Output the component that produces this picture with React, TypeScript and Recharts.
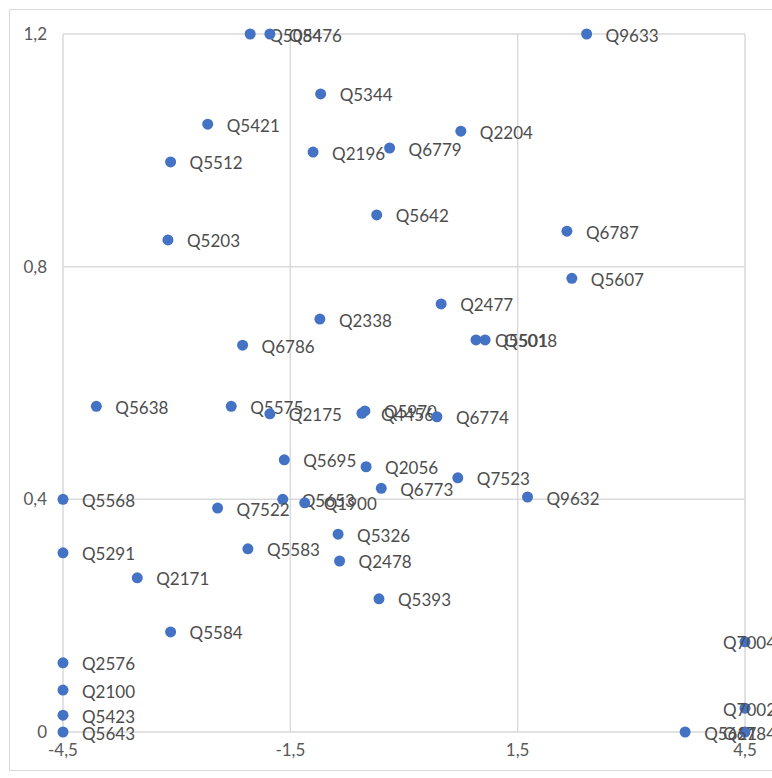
import { ScatterChart, Scatter, XAxis, YAxis, CartesianGrid } from 'recharts';

const labels = [
  'Q5084', 'Q5476', 'Q9633', 'Q5344', 'Q5421', 'Q2204', 'Q6779', 'Q2196', 'Q5512', 'Q5642',
  'Q6787', 'Q5203', 'Q5607', 'Q2477', 'Q2338', 'Q5501', 'Q5018', 'Q6786', 'Q5638', 'Q5575',
  'Q2175', 'Q4456', 'Q5970', 'Q6774', 'Q5695', 'Q2056', 'Q7523', 'Q6773', 'Q9632', 'Q5568',
  'Q5653', 'Q1900', 'Q7522', 'Q5326', 'Q5291', 'Q5583', 'Q2478', 'Q2171', 'Q5393', 'Q5584',
  'Q2576', 'Q2100', 'Q5423', 'Q5643', 'Q7004', 'Q7002', 'Q5621', 'Q6784',
];

const xValues = [
  -2.03, -1.77, 2.41, -1.1, -2.59, 0.75, -0.19, -1.2, -3.08, -0.36,
  2.15, -3.115, 2.215, 0.49, -1.11, 0.95, 1.07, -2.13, -4.06, -2.28,
  -1.77, -0.555, -0.516, 0.434, -1.58, -0.5, 0.71, -0.3, 1.63, -4.5,
  -1.6, -1.31, -2.46, -0.87, -4.5, -2.06, -0.85, -3.52, -0.33, -3.08,
  -4.5, -4.5, -4.5, -4.5, 4.5, 4.5, 3.71, 4.5,
];

const yValues = [
  1.2, 1.2, 1.2, 1.097, 1.045, 1.033, 1.004, 0.997, 0.98, 0.889,
  0.861, 0.846, 0.78, 0.736, 0.71, 0.674, 0.674, 0.665, 0.56, 0.56,
  0.547, 0.548, 0.552, 0.542, 0.468, 0.456, 0.437, 0.419, 0.404, 0.4,
  0.4, 0.394, 0.385, 0.34, 0.308, 0.315, 0.294, 0.265, 0.229, 0.172,
  0.119, 0.072, 0.029, 0, 0.155, 0.041, 0, 0,
];

const xTicks = [-4.5, -1.5, 1.5, 4.5];
const yTicks = [0, 0.4, 0.8, 1.2];

const data = labels.map((name, i) => ({ name, x: xValues[i], y: yValues[i] }));

const fmt = (v: number) => String(v).replace('.', ',');

const FONT = 'Lato, "Open Sans", sans-serif';
const RIGHT_LIMIT = 776;

function PointWithLabel(props: any) {
  const { cx, cy, payload } = props;
  const w = payload.name.length * 10.6;
  const tx = Math.min(cx + 19, RIGHT_LIMIT - w);
  return (
    <g>
      <circle cx={cx} cy={cy} r={5.5} fill="#4472C4" />
      <text x={tx} y={cy + 1} dominantBaseline="central" fontSize={17} fill="#4d4d4d" fontFamily={FONT}>
        {payload.name}
      </text>
    </g>
  );
}

export default function App() {
  return (
    <div style={{ position: 'relative', width: 772, height: 778, overflow: 'hidden', background: '#fff' }}>
      <style>{'body{margin:0}'}</style>
      <div style={{ position: 'absolute', left: 9, top: 9, width: 800, height: 760, border: '1px solid #d9d9d9' }} />
      <div style={{ position: 'absolute', left: 0, top: 0 }}>
        <ScatterChart width={772} height={778} margin={{ top: 34, right: 27, bottom: 16, left: 0 }}>
          <CartesianGrid stroke="#d9d9d9" strokeWidth={1.5} />
          <XAxis
            type="number"
            dataKey="x"
            domain={[-4.5, 4.5]}
            ticks={xTicks}
            tickFormatter={fmt}
            axisLine={false}
            tickLine={false}
            tickSize={0}
            tickMargin={12}
            height={30}
            tick={{ fill: '#595959', fontSize: 17, fontFamily: FONT }}
          />
          <YAxis
            type="number"
            dataKey="y"
            domain={[0, 1.2]}
            ticks={yTicks}
            tickFormatter={fmt}
            axisLine={false}
            tickLine={false}
            tickSize={0}
            tickMargin={16}
            width={63}
            tick={{ fill: '#595959', fontSize: 17, fontFamily: FONT }}
          />
          <Scatter data={data} shape={PointWithLabel} isAnimationActive={false} />
        </ScatterChart>
      </div>
    </div>
  );
}
